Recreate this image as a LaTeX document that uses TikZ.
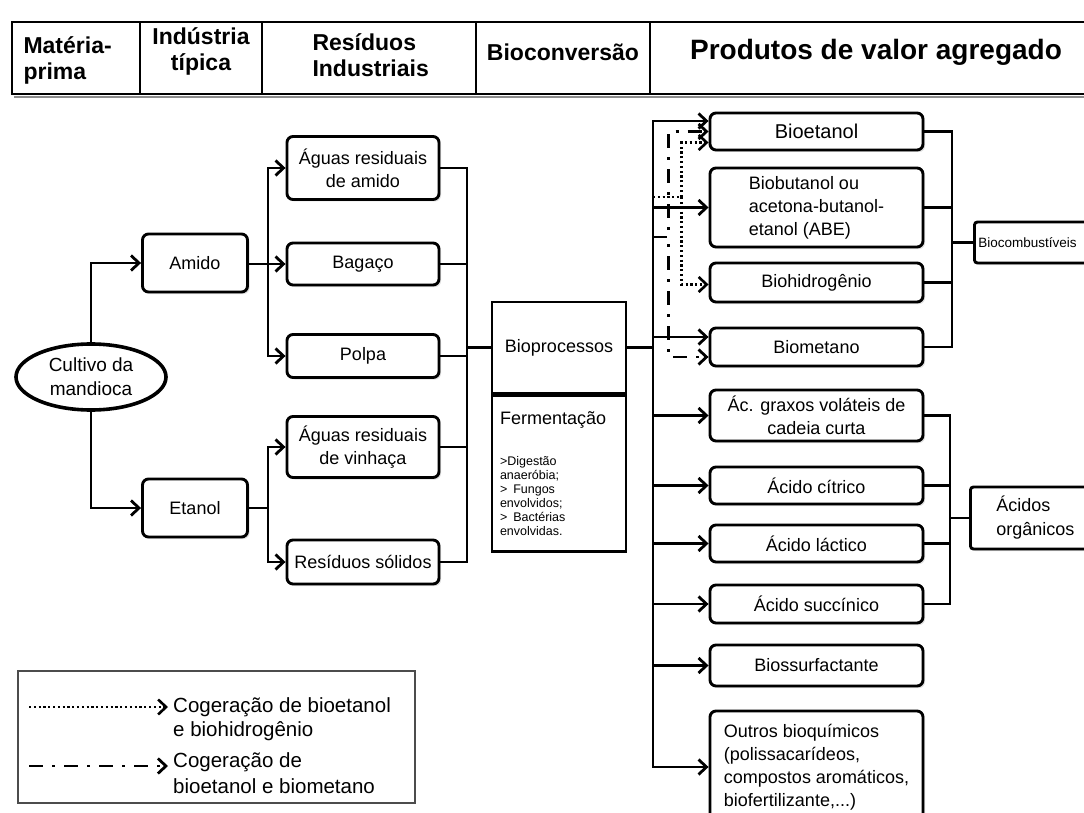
\documentclass[tikz,border=0pt]{standalone}
\usepackage{fontspec}
\setmainfont{Liberation Sans}
\usetikzlibrary{arrows.meta,positioning,calc,shapes.geometric,shadows}

\begin{document}
\begin{tikzpicture}[x=1pt, y=-1pt,
  box/.style={draw, line width=2.9pt, rounded corners=6pt, align=center,
    minimum width=152pt, font=\fontsize{18}{23}\selectfont, inner sep=1pt,
    fill=white, drop shadow={shadow xshift=2pt, shadow yshift=-2pt, opacity=0.25}},
  prod/.style={box, minimum width=213pt},
  hdr/.style={font=\bfseries\fontsize{23}{26}\selectfont, align=center},
  link/.style={line width=2.8pt},
  arr/.style={link, -{Straight Barb[length=8pt,width=15pt]}},
  cogh/.style={arr, line width=2.6pt, dash pattern=on 2.2pt off 2.6pt},
  cogm/.style={arr, line width=2.8pt, dash pattern=on 14pt off 9pt on 3pt off 9pt}]
\useasboundingbox (0,0) rectangle (1084,813);
\fill[white] (0,0) rectangle (1084,813);

% header
\draw[black!45, line width=2.5pt] (14,97) -- (1100,97);
\draw[line width=2.9pt] (12,22) rectangle (1100,94);
\foreach \x in {140,262,476,650}
  \draw[line width=2.9pt] (\x,22) -- (\x,94);
\node[hdr, anchor=west, align=left] (hmat) at (20,60) {Matéria-\\prima};
\node[hdr] (hind) at (201,51) {Indústria\\típica};
\node[hdr, anchor=west, align=left] (hres) at (309,55) {Resíduos\\Industriais};
\node[hdr] (hbio) at (563,52) {Bioconversão};
\node[hdr, font=\bfseries\fontsize{28}{30}\selectfont] (hprod) at (876,52)
  {Produtos de valor agregado};

% raw material and industry
\node[ellipse, draw, line width=3.6pt, minimum width=150pt, minimum height=66pt,
  inner sep=0pt, align=center, font=\fontsize{19}{24}\selectfont] (cult)
  at (91,377) {Cultivo da\\mandioca};
\node[box, minimum width=105pt, minimum height=58pt] (amido) at (195,263) {Amido};
\node[box, minimum width=105pt, minimum height=58pt] (etanol) at (195,508) {Etanol};

% residues
\node[box, minimum height=63pt] (aguaam) at (363,168) {Águas residuais\\de amido};
\node[box, minimum height=42pt] (bagaco) at (363,264) {Bagaço};
\node[box, minimum height=43pt] (polpa) at (363,356) {Polpa};
\node[box, minimum height=61pt] (aguavi) at (363,447) {Águas residuais\\de vinhaça};
\node[box, minimum height=44pt] (solidos) at (363,562) {Resíduos sólidos};

\draw[arr] (cult.north) |- (amido.west);
\draw[arr] (cult.south) |- (etanol.west);
\coordinate (ja) at (268,264);
\coordinate (je) at (268,508);
\draw[arr] (amido.east |- bagaco.west) -- (bagaco.west);
\draw[arr] (ja) |- (aguaam.west);
\draw[arr] (ja) |- (polpa.west);
\draw[link] (etanol.east) -- (je);
\draw[arr] (je) |- (aguavi.west);
\draw[arr] (je) |- (solidos.west);

% bioconversion
\node[draw, line width=2.9pt, minimum width=134pt, minimum height=91pt,
  font=\fontsize{18}{23}\selectfont] (bioproc) at (559,347.5) {Bioprocessos};
\node[draw, line width=2.9pt, minimum width=134pt, minimum height=156pt,
  anchor=north, text width=118pt, align=left, font=\fontsize{18}{23}\selectfont]
  (ferm) at (bioproc.south) {Fermentação\\[27pt]{\fontsize{12.5}{14}\selectfont
  >Digestão\\anaeróbia;\\> Fungos\\envolvidos;\\> Bactérias\\envolvidas.\par}};

\coordinate (cr) at (467,347.5);
\foreach \n in {aguaam,bagaco,polpa,aguavi,solidos}
  \draw[link] (\n.east) -| (cr);
\draw[link] (cr) -- (bioproc.west);

% products
\node[prod, minimum height=37pt, font=\fontsize{20}{24}\selectfont] (bioeta)
  at (816.5,131.5) {Bioetanol};
\node[prod, minimum height=79pt, align=left] (biobut) at (816.5,207.5)
  {Biobutanol ou\\acetona-butanol-\\etanol (ABE)};
\node[prod, minimum height=39pt] (biohid) at (816.5,282.5) {Biohidrogênio};
\node[prod, minimum height=38pt] (biomet) at (816.5,347) {Biometano};
\node[prod, minimum height=51pt] (graxos) at (816.5,415.5)
  {Ác. graxos voláteis de\\cadeia curta};
\node[prod, minimum height=37pt] (citric) at (816.5,485.5) {Ácido cítrico};
\node[prod, minimum height=37pt] (lactic) at (816.5,543.5) {Ácido láctico};
\node[prod, minimum height=38pt] (succin) at (816.5,604) {Ácido succínico};
\node[prod, minimum height=41pt] (surfac) at (816.5,665.5) {Biossurfactante};
\node[prod, minimum height=112pt, align=left] (outros) at (816.5,767)
  {Outros bioquímicos\\(polissacarídeos,\\compostos aromáticos,\\biofertilizante,...)};

\coordinate (dtop) at (653,121);
\draw[link] (bioproc.east) -- (bioproc.east -| dtop);
\draw[arr] (bioproc.east -| dtop) -- (dtop) -- (dtop -| bioeta.west);
\draw[arr] (bioproc.east -| dtop) |- (outros.west);
\draw[arr] (dtop |- biobut.west) -- (biobut.west);
\draw[arr] ($(dtop |- biomet.west)+(0,-10)$) -- ($(biomet.west)+(0,-10)$);
\foreach \n in {graxos,citric,lactic,succin,surfac}
  \draw[arr] (dtop |- \n.west) -- (\n.west);

% co-generation routes
\coordinate (dh) at (653,197);
\coordinate (dm) at (653,237);
\draw[cogm] (dm) -| ($(bioeta.west)+(-40,0)$) -- (bioeta.west);
\draw[cogm] (dm) -| ($(biomet.west)+(-40,10)$) -- ($(biomet.west)+(0,10)$);
\draw[cogh] (dh) -| ($(bioeta.west)+(-27,11)$) -- ($(bioeta.west)+(0,11)$);
\draw[cogh] (dh) -| ($(biohid.west)+(-27,2)$) -- ($(biohid.west)+(0,2)$);

% groups
\node[draw, line width=2.9pt, rounded corners=3pt, anchor=west, minimum height=41pt,
  text width=118pt, inner xsep=4pt, align=left, font=\fontsize{13.5}{16}\selectfont,
  fill=white, drop shadow={shadow xshift=2pt, shadow yshift=-2pt, opacity=0.25}]
  (biocomb) at (973,242.5) {Biocombustíveis};
\coordinate (cbio) at (952,242.5);
\foreach \n in {bioeta,biobut,biohid,biomet}
  \draw[link] (\n.east) -| (cbio);
\draw[link] (cbio) -- (biocomb.west);

\node[draw, line width=2.9pt, rounded corners=3pt, anchor=west, minimum height=62pt,
  text width=100pt, inner xsep=26pt, align=left, font=\fontsize{18}{24}\selectfont,
  fill=white, drop shadow={shadow xshift=2pt, shadow yshift=-2pt, opacity=0.25}]
  (acidos) at (969,518) {Ácidos\\orgânicos};
\coordinate (cac) at (950,518);
\foreach \n in {graxos,citric,lactic,succin}
  \draw[link] (\n.east) -| (cac);
\draw[link] (cac) -- (acidos.west);

% legend
\node[draw=black!70, line width=1.8pt, minimum width=397pt, minimum height=132pt,
  anchor=north west] (legend) at (17,670) {};
\node[anchor=west, align=left, font=\fontsize{20.5}{24}\selectfont, inner sep=0pt]
  (legh) at (173,719) {Cogeração de bioetanol\\e biohidrogênio};
\node[anchor=west, align=left, font=\fontsize{20.5}{26}\selectfont, inner sep=0pt]
  (legm) at (173,773) {Cogeração de\\bioetanol e biometano};
\coordinate (lh) at (29,707);
\coordinate (lm) at (29,766);
\draw[cogh] (lh) -- ($(lh -| legh.west)+(-5,0)$);
\draw[cogm] (lm) -- ($(lm -| legm.west)+(-5,0)$);
\end{tikzpicture}
\end{document}
